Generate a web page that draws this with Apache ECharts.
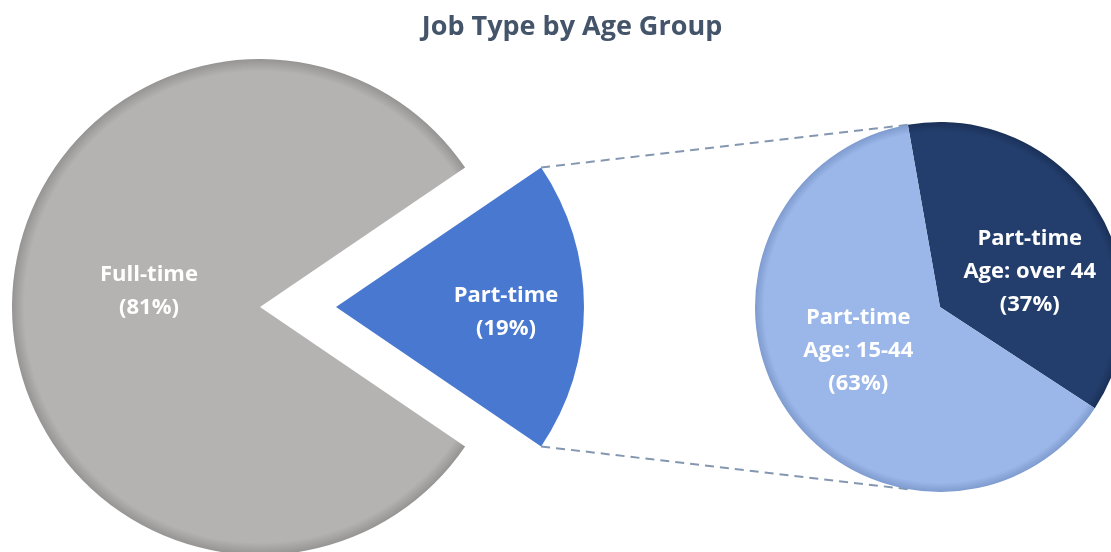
<!DOCTYPE html>
<html>
<head>
<meta charset="utf-8">
<script src="https://cdn.jsdelivr.net/npm/echarts@6/dist/echarts.min.js"></script>
<style>
  html, body { margin: 0; padding: 0; background: #fff; }
  #chart { width: 1111px; height: 552px; }
</style>
</head>
<body>
<div id="chart"></div>
<script>
// data
var jobTypes = ["Part-time", "Full-time"];
var jobShares = [19, 81];
var ageGroups = ["Part-time\nAge: over 44", "Part-time\nAge: 15-44"];
var ageShares = [37, 63];

// layout
var leftCenter = [260, 307];
var leftRadius = 248;
var explode = 76;
var rightCenter = [940, 307];
var rightRadius = 185;
var rightStart = 100;

var jobColors = [
  { base: "#4878cf", rim: "#345fa8" },
  { base: "#b5b2b2", rim: "#969393" },
];
var ageColors = [
  { base: "#233e6c", rim: "#1a3058" },
  { base: "#9bb6e8", rim: "#7e9bcf" },
];

var font = '"Open Sans", sans-serif';

function shade(c, cx, cy, r) {
  return new echarts.graphic.RadialGradient(cx, cy, r, [
    { offset: 0, color: c.base },
    { offset: 0.95, color: c.base },
    { offset: 1, color: c.rim },
  ], true);
}

var total = jobShares.reduce(function (a, b) { return a + b; }, 0);
var half = (jobShares[0] / total) * 180;
var rad = Math.PI / 180;

// connector end points, from the pie geometry
var wedgeTop = [
  leftCenter[0] + explode + leftRadius * Math.cos(half * rad),
  leftCenter[1] - leftRadius * Math.sin(half * rad),
];
var wedgeBottom = [wedgeTop[0], leftCenter[1] + leftRadius * Math.sin(half * rad)];
var pieTop = [
  rightCenter[0] + rightRadius * Math.cos(rightStart * rad),
  rightCenter[1] - rightRadius * Math.sin(rightStart * rad),
];
var pieBottom = [pieTop[0], rightCenter[1] + rightRadius * Math.sin(rightStart * rad)];

var jobData = jobTypes.map(function (name, i) {
  var cx = leftCenter[0] + (i === 0 ? explode : 0);
  return {
    name: name,
    value: jobShares[i],
    selected: i === 0,
    itemStyle: { color: shade(jobColors[i], cx, leftCenter[1], leftRadius) },
  };
});

var ageData = ageGroups.map(function (name, i) {
  return {
    name: name,
    value: ageShares[i],
    itemStyle: { color: shade(ageColors[i], rightCenter[0], rightCenter[1], rightRadius) },
  };
});

var labelStyle = {
  show: true,
  position: "inside",
  formatter: "{b}\n({d}%)",
  color: "#fff",
  fontFamily: font,
  fontWeight: "bold",
  fontSize: 22,
  lineHeight: 33,
  align: "center",
};

var jobShift = [[43, 5], [16, -16]];
var ageShift = [[10, 17], [-2, -9]];

var chart = echarts.init(document.getElementById("chart"));
chart.setOption({
  backgroundColor: "#fff",
  animation: false,
  title: {
    text: "Job Type by Age Group",
    left: 567,
    top: 9,
    textAlign: "center",
    textStyle: {
      color: "#44546a",
      fontFamily: font,
      fontWeight: "bold",
      fontSize: 27,
    },
  },
  graphic: [
    {
      type: "line",
      z: -1,
      shape: { x1: wedgeTop[0], y1: wedgeTop[1], x2: pieTop[0], y2: pieTop[1] },
      style: { stroke: "#8497b0", lineWidth: 2, lineDash: [9, 6] },
    },
    {
      type: "line",
      z: -1,
      shape: { x1: wedgeBottom[0], y1: wedgeBottom[1], x2: pieBottom[0], y2: pieBottom[1] },
      style: { stroke: "#8497b0", lineWidth: 2, lineDash: [9, 6] },
    },
  ],
  series: [
    {
      type: "pie",
      center: leftCenter,
      radius: leftRadius,
      startAngle: half,
      clockwise: true,
      selectedMode: "single",
      selectedOffset: explode,
      percentPrecision: 0,
      label: labelStyle,
      labelLine: { show: false },
      labelLayout: function (p) {
        return { dx: jobShift[p.dataIndex][0], dy: jobShift[p.dataIndex][1] };
      },
      emphasis: { disabled: true },
      data: jobData,
    },
    {
      type: "pie",
      center: rightCenter,
      radius: rightRadius,
      startAngle: rightStart,
      clockwise: true,
      percentPrecision: 0,
      label: labelStyle,
      labelLine: { show: false },
      labelLayout: function (p) {
        return { dx: ageShift[p.dataIndex][0], dy: ageShift[p.dataIndex][1] };
      },
      emphasis: { disabled: true },
      data: ageData,
    },
  ],
});
</script>
</body>
</html>
